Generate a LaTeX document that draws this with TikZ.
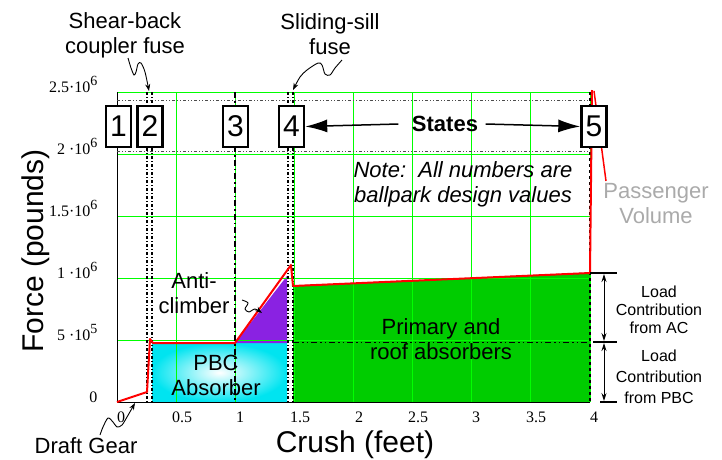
\documentclass[tikz,border=0pt]{standalone}
\usepackage{fontspec}
\setmainfont{Liberation Sans}
\newfontfamily\tickfont{Liberation Serif}
\usetikzlibrary{arrows.meta}
\definecolor{gridgreen}{RGB}{0,255,0}
\definecolor{fillgreen}{RGB}{0,204,0}
\definecolor{acpurple}{RGB}{138,34,226}
\definecolor{pbccyan}{RGB}{0,228,240}
\definecolor{pvgray}{RGB}{170,170,170}
\newcommand{\fsz}[2]{\fontsize{#1}{#2}\selectfont}
\newcommand{\supx}[1]{\raisebox{0.42em}{\fsz{14}{14}#1}}
\begin{document}
\begin{tikzpicture}[x=1pt,y=-1pt,
  gridl/.style={draw=gridgreen,line width=0.9pt},
  dotv/.style={line width=1.5pt,dash pattern=on 3pt off 2pt on 1pt off 2pt},
  dashdot/.style={line width=1.3pt,dash pattern=on 6pt off 3pt on 1.5pt off 3pt},
  thindd/.style={line width=0.8pt,draw=black!70,dash pattern=on 3pt off 2pt on 1pt off 2pt on 1pt off 2pt},
  stbox/.style={draw,line width=2.4pt,fill=white,minimum width=25pt,minimum height=41pt,inner sep=0pt,font=\fsz{30}{32}},
  lbl/.style={align=center,font=\fsz{22}{25}},
  squig/.style={line width=0.9pt,-{Stealth[length=7pt,width=5pt]}},
  curve/.style={draw=red,line width=2pt,line join=round},
  tickl/.style={font=\tickfont\fsz{16}{18}},
  bigarrow/.style={line width=1.5pt,-{Latex[length=22pt,width=13pt]}},
  dbl/.style={line width=0.9pt,{Stealth[length=8pt,width=5pt]}-{Stealth[length=8pt,width=5pt]}}
]
\useasboundingbox (0,0) rectangle (722,459);

% filled regions
\shade[inner color=white,outer color=pbccyan] (152,343) rectangle (287,402);
\fill[acpurple] (235,343) -- (287,276) -- (287,343) -- cycle;
\fill[fillgreen] (293,286) -- (590,273) -- (590,402) -- (293,402) -- cycle;

% grid
\foreach \x in {176.1,235.3,294.4,353.5,412.6,471.8,530.9}
  \draw[gridl] (\x,92) -- (\x,402);
\foreach \y in {340,278,216,154}
  \draw[gridl] (117,\y) -- (590,\y);
\draw[gridl] (117,92) -- (590,92) -- (590,402);
\draw[line width=1pt] (117,92) -- (117,402) -- (590,402);

% states band
\draw[thindd] (117,100) -- (590,100);
\draw[thindd] (117,151) -- (590,151);

% state boundary lines
\draw[dotv] (147,92) -- (147,402);
\draw[dotv] (152,92) -- (152,402);
\draw[dashdot] (235,92) -- (235,402);
\draw[dotv] (288,92) -- (288,402);
\draw[dotv] (293,92) -- (293,402);
\draw[dashed,line width=1.5pt] (590,92) -- (590,402);
\draw[dashdot,line width=1pt] (293,286) -- (590,273);
\draw[dashdot,line width=1pt,dash pattern=on 6pt off 3pt on 1.5pt off 3pt on 1.5pt off 3pt] (293,342) -- (590,342);

% force curve
\draw[curve] (117,402) -- (147,392) -- (150,339) -- (153,343) -- (235,343) -- (291,265) -- (293,286) -- (590,273) -- (592,90);

% passenger volume
\node[lbl,text=pvgray] (pv) at (656,204) {Passenger\\Volume};
\coordinate (pvfoot) at (606,181);
\coordinate (pvtop) at (594,91);
\draw[red,line width=1.5pt] (pvfoot) -- (pvtop);

% state boxes
\node[stbox] (s1) at (118.5,126.5) {1};
\node[stbox] (s2) at (150,126.5) {2};
\node[stbox] (s3) at (235.5,126.5) {3};
\node[stbox] (s4) at (291.5,126.5) {4};
\node[stbox] (s5) at (594,126.5) {5};
\node[font=\bfseries\fsz{22}{24}] (states) at (445,124) {States};
\draw[bigarrow] ([xshift=-10pt]states.west) -- (s4.east);
\draw[bigarrow] ([xshift=4pt]states.east) -- (s5.west);

% top labels
\node[lbl] (shear) at (125,35) {Shear-back\\coupler fuse};
\node[lbl] (sill) at (330,34) {Sliding-sill\\fuse};
\draw[squig] plot[smooth] coordinates {(128,58) (131,68) (134,75) (136,72) (138,64) (141,63) (145,72) (149,91)};
\draw[squig] plot[smooth] coordinates {(342,60) (335,68) (330,75) (325,74) (322,65) (318,63) (307,70) (300,77) (293,90)};

% note
\node[lbl,font=\itshape\fsz{22}{25}] (note) at (463,184) {Note:\ \ All numbers are\\ballpark design values};

% region labels
\node[lbl] (anti) at (194,293) {Anti-\\climber};
\draw[squig] plot[smooth] coordinates {(242,300) (248,303) (245,309) (249,312) (255,309) (262,313)};
\node[lbl] (pbc) at (216,375) {PBC\\Absorber};
\node[lbl] (prim) at (441,339) {Primary and\\roof absorbers};
\node[lbl] (draft) at (86,446) {Draft Gear};
\draw[squig] plot[smooth] coordinates {(100,435) (103,427) (108,418) (113,422) (117,427) (122,425) (127,417) (135,403)};

% load contribution annotations
\draw[line width=1.2pt] (590,273) -- (617,273);
\draw[line width=1.2pt] (593,342) -- (617,342);
\draw[line width=1.2pt] (600,402) -- (617,402);
\draw[dbl] (604,274) -- (604,341);
\draw[dbl] (604,343) -- (604,401);
\node[align=center,font=\fsz{16}{18}] (lac) at (659,310) {Load\\Contribution\\from AC};
\node[align=center,font=\fsz{16}{21}] (lpbc) at (659,377) {Load\\Contribution\\from PBC};

% tick labels
\node[tickl,anchor=base east] at (101,92) {2.5·10\supx{6}};
\node[tickl,anchor=base east] at (101,154) {2 ·10\supx{6}};
\node[tickl,anchor=base east] at (101,216) {1.5·10\supx{6}};
\node[tickl,anchor=base east] at (101,278) {1 ·10\supx{6}};
\node[tickl,anchor=base east] at (101,340) {5 ·10\supx{5}};
\node[tickl,anchor=base east] at (101,402) {0};
\foreach \x/\t in {121/0,182/0.5,240/1,300/1.5,359/2,418/2.5,476/3,536/3.5,594/4}
  \node[tickl,anchor=base] at (\x,422) {\t};

% axis titles
\node[font=\fsz{30}{32},rotate=90,anchor=base] (ytitle) at (43,251) {Force (pounds)};
\node[font=\fsz{30}{32},anchor=base] (xtitle) at (355,452) {Crush (feet)};
\end{tikzpicture}
\end{document}
